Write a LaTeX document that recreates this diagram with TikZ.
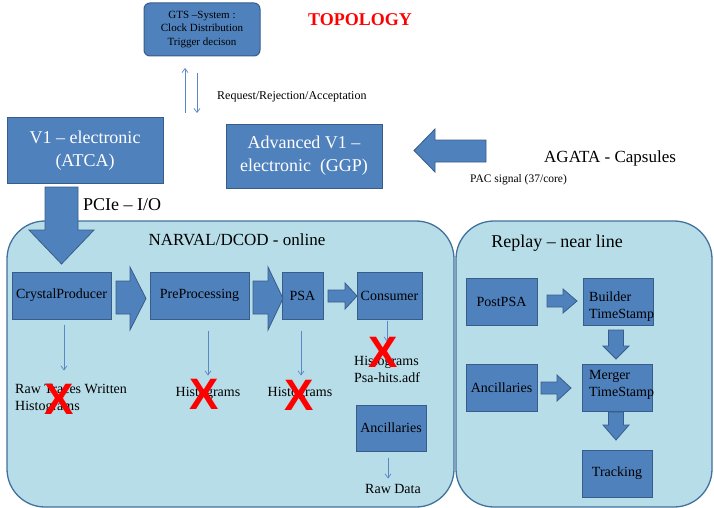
\documentclass[tikz,border=0pt]{standalone}
\usepackage{fontspec}
\setmainfont{Liberation Serif}
\newfontfamily\crossfont{Liberation Sans}
\usetikzlibrary{arrows.meta}
\definecolor{boxfill}{HTML}{4F81BD}
\definecolor{boxline}{HTML}{385D8A}
\definecolor{contfill}{HTML}{B7DDE8}
\definecolor{contline}{HTML}{41719C}
\definecolor{thinblue}{HTML}{5B87C5}
\newcommand\fsz[2]{\fontsize{#1}{#2}\selectfont}
\begin{document}
\begin{tikzpicture}[x=1pt,y=-1pt,
  box/.style={draw=boxline, fill=boxfill, line width=1pt, inner sep=0pt, font=\fsz{14}{17}, text=black},
  wbox/.style={box, text=white, font=\fsz{18}{23}, align=center},
  cont/.style={draw=contline, fill=contfill, line width=1.3pt, rounded corners=38pt, inner sep=0pt},
  blockarrow/.style={draw=boxline, fill=boxfill, line width=0.8pt},
  thinarr/.style={draw=thinblue, line width=0.7pt, -{Straight Barb[length=4pt,width=6pt]}},
  lbl/.style={inner sep=0pt, font=\fsz{14}{17}},
  cross/.style={text=red, font=\crossfont\bfseries\fsz{44}{44}, inner sep=0pt}
]
\useasboundingbox (0,0) rectangle (714,508);

% top part
\node[box, rounded corners=6pt, minimum width=116pt, minimum height=53pt, align=center, font=\fsz{11}{13.5}] (gts) at (202,29.5) {GTS –System :\\Clock Distribution\\Trigger decison};
\node[inner sep=0pt, text=red, font=\bfseries\fsz{18}{20}] (topo) at (360,20) {TOPOLOGY};
\coordinate (upbot) at (185,113);
\coordinate (downtop) at (197,73);
\draw[thinarr] (upbot) -- ++(0,-45);
\draw[thinarr] (downtop) -- ++(0,40);
\node[inner sep=0pt, anchor=west, font=\fsz{12}{14}] (req) at (217,97) {Request/Rejection/Acceptation};

\node[wbox, minimum width=156pt, minimum height=65pt] (v1) at (85,150.5) {V1 – electronic\\(ATCA)};
\node[wbox, minimum width=156pt, minimum height=64pt] (adv) at (304,156) {Advanced V1 –\\electronic~ (GGP)};
\draw[blockarrow] (486,140) -- (435,140) -- (435,129) -- (414,150.5) -- (435,172) -- (435,162) -- (486,162) -- cycle;
\node[inner sep=0pt, anchor=west, font=\fsz{17}{20}] (agata) at (544,158) {AGATA - Capsules};
\node[inner sep=0pt, anchor=west, font=\fsz{11.5}{13}] (pac) at (470,180) {PAC signal (37/core)};
\node[inner sep=0pt, anchor=west, font=\fsz{18}{20}] (pcie) at (83,205) {PCIe – I/O};

% containers
\node[cont, minimum width=447pt, minimum height=286pt] (narval) at (230.5,364) {};
\node[cont, minimum width=256pt, minimum height=286pt] (replay) at (584,364) {};
\node[inner sep=0pt, font=\fsz{17}{20}] (narvaltitle) at (237,240) {NARVAL/DCOD - online};
\node[inner sep=0pt, font=\fsz{18}{20}] (replaytitle) at (557,243) {Replay – near line};

% big down arrow
\draw[blockarrow] (45,187) -- (78,187) -- (78,230) -- (94,230) -- (61.5,264) -- (29,230) -- (45,230) -- cycle;

% NARVAL chain
\node[box, minimum width=99pt, minimum height=47pt] (cp) at (61.5,295.5) {CrystalProducer};
\node[box, minimum width=99pt, minimum height=47pt] (pp) at (199.5,295.5) {PreProcessing};
\node[box, minimum width=41pt, minimum height=47pt] (psa) at (302.5,295.5) {PSA};
\node[box, minimum width=65pt, minimum height=47pt] (cons) at (389.5,295.5) {Consumer};
\draw[blockarrow] (116,281) -- (130,281) -- (130,267) -- (146,298.5) -- (130,330) -- (130,314) -- (116,314) -- cycle;
\draw[blockarrow] (253,281) -- (268,281) -- (268,267) -- (283,298.5) -- (268,330) -- (268,314) -- (253,314) -- cycle;
\draw[blockarrow] (328,290) -- (345,290) -- (345,283) -- (357,296) -- (345,309) -- (345,302) -- (328,302) -- cycle;

\draw[thinarr] ([xshift=2.5pt,yshift=-5pt]cp.south) -- ++(0,46);
\draw[thinarr] ([xshift=8.5pt,yshift=-11pt]pp.south) -- ++(0,45);
\draw[thinarr] ([xshift=-1.5pt,yshift=-11pt]psa.south) -- ++(0,45);
\draw[thinarr] ([xshift=-2.5pt,yshift=-1pt]cons.south) -- ++(0,21);

\node[lbl, anchor=west, align=left] (raw) at (15,398.5) {Raw Traces Written\\Histograms};
\node[lbl] (h1) at (208,393) {Histograms};
\node[lbl] (h2) at (300,393) {Histograms};
\node[lbl, anchor=west, align=left] (h3) at (354,369.5) {Histograms\\Psa-hits.adf};

\node[box, minimum width=70pt, minimum height=46pt] (anc1) at (391,428) {Ancillaries};
\draw[thinarr] ([xshift=-3pt,yshift=-6pt]anc1.south) -- ++(0,21);
\node[lbl] (rawdata) at (393,489) {Raw Data};

% Replay
\node[box, minimum width=71pt, minimum height=47pt] (post) at (501.5,301.5) {PostPSA};
\node[box, minimum width=70pt, minimum height=47pt] (builder) at (618,301.5) {};
\node[lbl, anchor=west, align=left] (buildertxt) at (589,307) {Builder\\TimeStamp};
\node[box, minimum width=71pt, minimum height=47pt] (anc2) at (501.5,387.5) {Ancillaries};
\node[box, minimum width=70pt, minimum height=47pt] (merger) at (617,387.5) {};
\node[lbl, anchor=west, align=left] (mergertxt) at (589,385) {Merger\\TimeStamp};
\node[box, minimum width=70pt, minimum height=47pt] (track) at (617,473.5) {Tracking};

\draw[blockarrow] (547,295) -- (563,295) -- (563,289) -- (577,301) -- (563,313) -- (563,307) -- (547,307) -- cycle;
\draw[blockarrow] (541,382) -- (557,382) -- (557,375) -- (571,388) -- (557,401) -- (557,394) -- (541,394) -- cycle;
\draw[blockarrow] (608.5,330) -- (623.5,330) -- (623.5,346) -- (629,346) -- (616,359) -- (603,346) -- (608.5,346) -- cycle;
\draw[blockarrow] (608.5,412) -- (623.5,412) -- (623.5,425) -- (629,425) -- (616,440) -- (603,425) -- (608.5,425) -- cycle;

% crosses
\node[cross] (x1) at (59,399) {X};
\node[cross] (x2) at (204,394) {X};
\node[cross] (x3) at (299,395) {X};
\node[cross] (x4) at (383,352) {X};
\end{tikzpicture}
\end{document}
